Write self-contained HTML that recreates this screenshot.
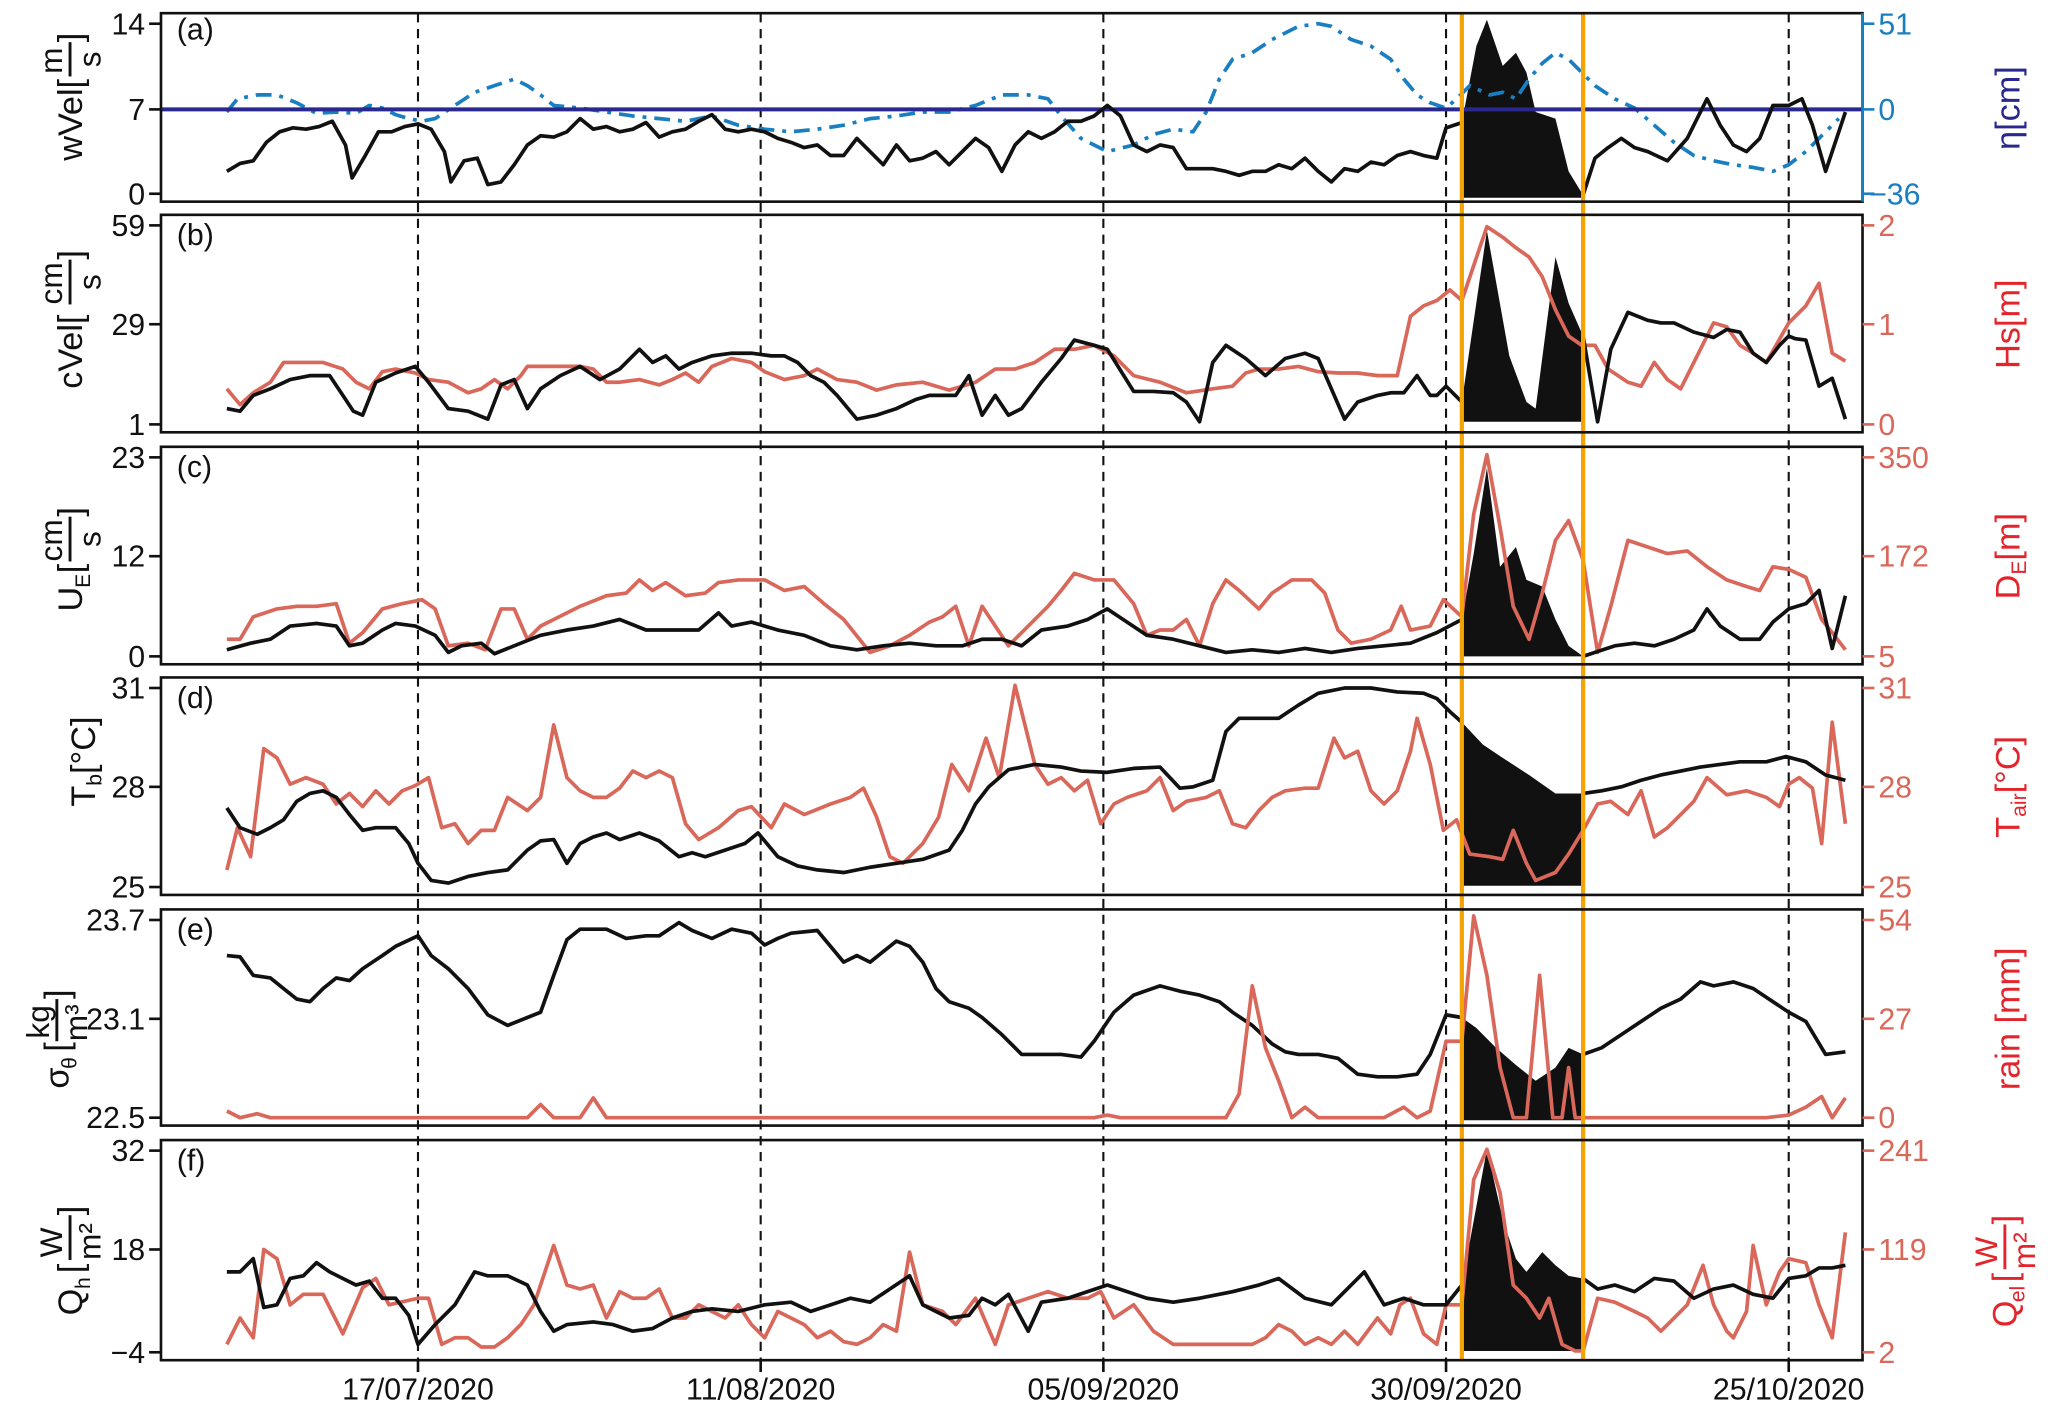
<!DOCTYPE html>
<html><head><meta charset="utf-8"><style>html,body{margin:0;padding:0;background:#fff}svg{display:block}</style></head>
<body>
<svg xmlns="http://www.w3.org/2000/svg" width="2067" height="1405" viewBox="0 0 1568 1066" font-family="Liberation Sans, sans-serif">
<rect width="1568" height="1066" fill="#fff"/>
<g fill="#111" stroke="none">
<polygon points="1109,150 1109,93 1120,35 1128,15 1140,50 1150,40 1158,55 1165,85 1180,90 1190,130 1201,148 1201,150"/>
<polygon points="1109,320 1109,305 1128,175 1145,270 1158,305 1165,310 1180,195 1190,230 1201,255 1201,320"/>
<polygon points="1109,498 1109,470 1118,420 1128,355 1138,430 1150,415 1158,440 1170,445 1180,470 1190,490 1201,498"/>
<polygon points="1109,672 1109,548 1125,565 1140,575 1160,588 1180,602 1201,602 1201,672"/>
<polygon points="1109,850 1109,772 1120,780 1135,795 1150,808 1165,820 1180,810 1190,795 1201,800 1201,850"/>
<polygon points="1109,1025 1109,975 1128,872 1140,925 1150,955 1158,965 1170,950 1180,960 1190,968 1201,970 1201,1025"/>
</g>
<g stroke="#111" stroke-width="1.6" stroke-dasharray="7,5">
<line x1="317" y1="10" x2="317" y2="1032"/><line x1="577" y1="10" x2="577" y2="1032"/><line x1="837" y1="10" x2="837" y2="1032"/><line x1="1097" y1="10" x2="1097" y2="1032"/><line x1="1357" y1="10" x2="1357" y2="1032"/>
</g>
<g fill="none" stroke-width="2.8" stroke-linejoin="round">
<polyline stroke="#1a7fc0" stroke-dasharray="12,6,3,6" points="172,85 180,75 195,72 210,72 225,78 240,86 255,85 270,86 280,80 290,82 300,87 310,90 320,92 330,90 345,80 360,70 375,65 390,60 400,65 410,72 420,80 440,82 460,85 480,88 500,90 520,92 540,88 560,95 580,98 600,100 620,98 640,95 660,90 680,88 700,85 720,85 740,80 760,72 780,72 795,75 805,88 820,105 840,115 860,110 875,102 890,98 905,100 915,85 925,60 935,45 950,40 965,30 985,20 1000,18 1010,20 1025,30 1040,35 1055,45 1065,60 1075,72 1085,78 1097,82 1105,75 1115,65 1130,72 1140,70 1150,75 1160,60 1170,48 1180,40 1190,45 1200,55 1210,65 1225,75 1240,82 1255,95 1270,108 1285,118 1300,122 1315,125 1330,127 1345,130 1357,125 1370,115 1385,100 1395,90"/>
<line x1="122" y1="83" x2="1413" y2="83" stroke="#28288f" stroke-width="3"/>
<polyline stroke="#111" points="172,130 182,124 192,122 202,108 212,100 222,97 232,98 242,96 252,92 262,110 267,135 277,118 287,100 297,100 307,96 317,94 327,98 337,115 342,138 352,122 362,120 370,140 380,138 390,125 400,110 410,103 420,104 430,100 440,90 450,98 460,96 470,100 480,98 490,93 500,104 510,100 520,98 530,92 540,87 550,98 560,100 570,98 580,100 590,105 600,108 610,112 620,110 630,118 640,118 650,105 660,115 670,125 680,110 690,122 700,120 710,115 720,125 730,115 740,105 750,112 760,130 770,110 780,100 790,105 800,100 810,92 820,92 830,88 840,80 850,88 860,110 870,115 880,110 890,112 900,128 910,128 920,128 930,130 940,133 950,130 960,130 970,125 980,128 990,120 1000,130 1010,138 1020,128 1030,130 1040,123 1050,125 1060,118 1070,115 1080,118 1090,120 1097,97 1109,93"/>
<polyline stroke="#111" points="1201,148 1210,120 1220,112 1230,105 1240,112 1250,115 1265,122 1280,105 1295,75 1305,95 1315,110 1325,115 1335,105 1345,80 1357,80 1367,75 1375,95 1385,130 1400,85"/>
<polyline stroke="#d9675a" points="172,295 182,307 192,298 205,290 215,275 230,275 245,275 260,280 270,290 280,295 290,282 300,280 315,283 325,288 340,290 355,298 365,295 375,288 385,295 395,285 400,278 415,278 430,278 440,278 450,280 460,290 470,290 485,288 500,292 510,288 520,283 530,290 540,278 555,272 570,275 580,282 595,288 610,285 620,280 635,288 650,290 665,296 680,292 700,290 720,296 740,290 755,280 770,280 785,275 800,265 815,265 830,262 845,270 860,285 880,290 900,298 920,295 935,293 945,283 955,280 970,280 985,278 1000,282 1015,283 1030,283 1045,285 1060,285 1070,240 1080,232 1090,228 1100,220 1109,228 1128,172 1140,180 1150,188 1160,195 1170,210 1180,235 1190,255 1200,262 1210,262 1220,280 1235,290 1245,293 1255,275 1265,288 1275,295 1290,265 1300,245 1310,248 1320,262 1330,268 1340,275 1357,245 1370,232 1380,215 1390,268 1400,274"/>
<polyline stroke="#111" points="172,310 182,312 192,300 205,295 220,288 235,285 250,285 260,300 268,312 275,315 285,290 300,283 315,278 325,290 340,310 355,312 370,318 380,292 390,288 400,310 410,295 425,285 440,278 455,288 470,280 485,265 495,275 505,270 515,280 525,275 540,270 555,268 570,268 585,270 595,270 605,275 615,285 625,290 635,300 650,318 665,315 680,310 695,303 705,300 715,300 725,300 735,285 745,315 755,300 765,315 775,310 790,290 805,272 815,258 830,262 840,265 860,297 875,297 890,298 900,305 910,320 920,275 930,262 945,272 960,285 975,272 990,268 1000,272 1010,295 1020,318 1030,305 1045,300 1055,298 1065,298 1075,285 1085,300 1090,300 1097,293 1109,305"/>
<polyline stroke="#111" points="1201,255 1212,320 1222,265 1235,237 1250,243 1260,245 1270,245 1285,252 1300,256 1310,250 1320,252 1330,268 1340,275 1350,262 1357,255 1362,257 1370,258 1380,293 1390,287 1400,318"/>
<polyline stroke="#d9675a" points="172,485 182,485 192,468 210,462 225,460 240,460 255,458 265,488 275,480 290,462 305,458 320,455 330,462 340,490 355,488 368,493 380,462 390,462 400,485 410,475 420,470 440,460 460,452 475,450 485,440 495,448 505,442 520,452 535,450 545,442 560,440 580,440 595,448 610,445 625,458 640,470 660,495 675,490 690,482 705,472 715,468 725,460 735,490 745,460 755,475 765,490 780,475 795,460 805,448 815,435 830,440 845,440 860,458 870,482 880,478 890,478 900,470 910,490 920,458 930,440 940,448 955,462 965,450 980,440 995,440 1005,450 1015,478 1025,488 1040,485 1055,478 1063,460 1070,478 1085,475 1095,455 1109,468 1118,390 1128,345 1138,400 1148,460 1160,485 1170,450 1180,410 1190,395 1201,425 1212,495 1222,460 1235,410 1250,415 1265,420 1280,418 1295,430 1310,440 1325,445 1335,448 1345,430 1357,432 1370,438 1382,470 1390,480 1400,493"/>
<polyline stroke="#111" points="172,493 190,488 205,485 220,475 240,473 255,475 265,490 275,488 290,478 300,473 315,475 330,482 340,495 350,490 365,488 375,496 390,490 410,482 430,478 450,475 470,470 490,478 510,478 530,478 545,465 555,475 570,472 590,478 610,482 630,490 650,493 670,490 690,488 710,490 730,490 745,485 760,485 775,490 790,478 810,475 825,470 840,462 855,472 870,482 890,485 910,490 930,495 950,493 970,495 990,492 1010,495 1030,492 1050,490 1070,488 1090,480 1109,470"/>
<polyline stroke="#111" points="1201,498 1210,495 1225,490 1240,488 1255,490 1270,485 1285,478 1295,462 1305,475 1320,485 1335,485 1345,472 1357,462 1370,458 1380,448 1390,492 1400,452"/>
<polyline stroke="#d9675a" points="172,660 180,628 190,650 200,568 210,575 220,595 232,590 245,595 255,610 265,602 275,612 285,600 295,610 305,600 315,596 325,590 335,628 345,625 355,640 365,630 375,630 385,605 400,615 410,605 420,550 430,590 440,600 450,605 460,605 470,598 480,585 490,590 500,585 510,590 520,625 530,637 545,628 560,615 570,612 585,628 595,610 610,618 630,610 645,605 655,598 665,620 675,650 685,655 700,640 712,620 722,580 735,600 748,560 758,590 770,520 785,580 795,595 805,590 815,600 825,592 835,625 845,610 855,605 870,600 880,590 890,615 900,608 915,605 925,600 935,625 945,628 955,615 965,605 975,600 990,598 1000,598 1012,560 1020,575 1030,570 1040,600 1050,610 1060,600 1070,570 1075,545 1085,580 1095,630 1105,622 1115,648 1130,650 1140,652 1148,630 1158,655 1165,668 1180,662 1190,648 1201,630 1212,610 1222,608 1235,618 1245,600 1255,635 1265,628 1275,618 1285,608 1295,590 1310,603 1325,600 1340,605 1350,612 1357,595 1365,590 1375,598 1382,640 1390,548 1400,625"/>
<polyline stroke="#111" points="172,613 182,628 195,633 205,628 215,622 225,608 235,602 245,600 255,605 265,618 275,630 285,628 300,628 310,640 317,655 327,668 340,670 355,665 370,662 385,660 400,645 410,638 420,637 430,655 440,640 450,635 460,632 470,637 485,632 500,638 515,650 525,647 535,650 550,645 565,640 575,632 590,650 605,657 620,660 640,662 660,658 680,655 700,652 720,645 730,630 740,610 750,597 765,584 785,580 805,582 820,585 840,586 860,583 880,582 895,598 905,597 920,592 930,555 940,545 955,545 970,545 985,535 1000,526 1020,522 1040,522 1060,525 1080,526 1090,530 1100,540 1109,548"/>
<polyline stroke="#111" points="1201,602 1215,600 1230,597 1245,592 1260,588 1275,585 1290,582 1305,580 1320,578 1340,578 1355,574 1370,578 1385,588 1400,592"/>
<polyline stroke="#111" points="172,725 182,726 192,740 205,742 215,750 225,758 235,760 245,750 255,742 265,744 275,735 290,725 300,718 317,710 327,725 340,735 355,750 370,770 385,778 400,772 410,768 420,740 430,713 440,705 460,705 475,712 490,710 500,710 515,700 525,706 540,712 555,705 570,708 580,717 590,712 600,708 620,706 630,718 640,730 650,725 660,730 670,722 680,714 690,718 700,730 710,750 720,760 735,765 745,772 760,785 775,800 790,800 805,800 820,802 830,790 845,768 860,755 880,748 895,752 910,755 925,760 935,768 950,778 965,792 975,798 985,800 1000,800 1015,803 1030,815 1045,817 1060,817 1075,815 1085,800 1097,770 1109,772"/>
<polyline stroke="#111" points="1201,800 1215,795 1230,785 1245,775 1260,765 1275,758 1290,745 1300,748 1315,745 1330,750 1345,760 1357,768 1370,775 1385,800 1400,798"/>
<polyline stroke="#d9675a" points="172,843 182,848 195,845 205,848 400,848 410,838 420,848 440,848 450,833 460,848 830,848 840,846 850,848 930,848 940,830 950,748 960,795 970,820 980,848 990,840 1000,848 1050,848 1065,840 1075,848 1085,843 1097,790 1109,790 1118,695 1128,740 1138,810 1148,848 1158,848 1168,740 1178,848 1185,848 1190,810 1195,848 1201,848 1340,848 1357,846 1370,840 1382,832 1390,848 1400,833"/>
<polyline stroke="#d9675a" points="172,1020 182,1000 192,1015 200,948 210,955 220,990 230,982 245,982 260,1012 275,977 285,970 295,990 317,985 325,985 335,1020 345,1015 355,1015 365,1022 375,1022 385,1015 395,1005 405,990 420,945 430,975 440,978 450,975 460,1000 470,980 480,985 490,985 500,978 510,1000 520,1000 530,990 540,995 550,1000 560,990 570,1005 580,1015 590,995 600,1000 610,1005 620,1015 630,1010 640,1018 650,1020 660,1015 670,1005 680,1010 690,950 700,990 715,995 725,1005 740,985 755,1020 765,990 780,985 795,980 810,985 825,985 835,980 845,1000 860,990 875,1010 890,1020 910,1020 930,1020 950,1020 960,1015 970,1005 980,1010 990,1020 1000,1015 1010,1020 1020,1010 1030,1020 1045,1000 1055,1012 1062,990 1070,985 1080,1012 1090,1020 1097,990 1109,990 1118,895 1128,872 1138,905 1148,975 1158,985 1168,1000 1175,985 1185,1020 1195,1025 1201,1025 1212,985 1225,988 1240,995 1250,1000 1260,1010 1270,1000 1280,990 1292,960 1300,990 1310,1010 1315,1015 1325,995 1330,945 1340,990 1350,965 1357,955 1370,958 1380,990 1390,1015 1400,935"/>
<polyline stroke="#111" points="172,965 182,965 192,955 200,992 210,990 220,970 230,968 240,958 250,965 260,970 270,975 280,972 290,985 300,985 310,998 317,1020 330,1005 345,990 360,965 370,968 385,968 400,975 410,995 420,1010 430,1005 450,1003 465,1005 480,1010 495,1008 510,1000 525,995 540,993 560,995 580,990 600,988 615,995 630,990 645,985 660,988 675,978 690,968 700,990 710,995 720,1000 735,998 745,985 755,990 765,982 780,1010 790,988 810,985 825,980 840,975 855,980 870,985 890,988 910,985 935,980 955,975 970,970 990,985 1010,990 1025,975 1035,965 1050,990 1065,985 1080,990 1097,990 1109,975"/>
<polyline stroke="#111" points="1201,970 1212,978 1225,975 1240,980 1255,970 1270,972 1285,985 1300,978 1315,975 1330,982 1345,985 1357,970 1370,968 1380,962 1390,962 1400,960"/>
</g>
<g stroke="#f5a300" stroke-width="3.2">
<line x1="1109" y1="10" x2="1109" y2="1032"/><line x1="1201" y1="10" x2="1201" y2="1032"/>
</g>
<g fill="none" stroke="#111" stroke-width="2">
<rect x="122" y="10" width="1291" height="143"/>
<rect x="122" y="163" width="1291" height="165"/>
<rect x="122" y="339" width="1291" height="165"/>
<rect x="122" y="514" width="1291" height="165"/>
<rect x="122" y="690" width="1291" height="164"/>
<rect x="122" y="865" width="1291" height="167"/>
</g>
<g stroke="#111" stroke-width="2">
<line x1="113" y1="18" x2="122" y2="18"/><line x1="113" y1="83" x2="122" y2="83"/><line x1="113" y1="147" x2="122" y2="147"/>
<line x1="113" y1="171" x2="122" y2="171"/><line x1="113" y1="246" x2="122" y2="246"/><line x1="113" y1="322" x2="122" y2="322"/>
<line x1="113" y1="347" x2="122" y2="347"/><line x1="113" y1="422" x2="122" y2="422"/><line x1="113" y1="498" x2="122" y2="498"/>
<line x1="113" y1="522" x2="122" y2="522"/><line x1="113" y1="597" x2="122" y2="597"/><line x1="113" y1="673" x2="122" y2="673"/>
<line x1="113" y1="698" x2="122" y2="698"/><line x1="113" y1="773" x2="122" y2="773"/><line x1="113" y1="848" x2="122" y2="848"/>
<line x1="113" y1="873" x2="122" y2="873"/><line x1="113" y1="948" x2="122" y2="948"/><line x1="113" y1="1026" x2="122" y2="1026"/>
<line x1="317" y1="1032" x2="317" y2="1041"/><line x1="577" y1="1032" x2="577" y2="1041"/><line x1="837" y1="1032" x2="837" y2="1041"/><line x1="1097" y1="1032" x2="1097" y2="1041"/><line x1="1357" y1="1032" x2="1357" y2="1041"/>
</g>
<g stroke="#1a7fc0" stroke-width="2"><line x1="1413" y1="18" x2="1422" y2="18"/><line x1="1413" y1="83" x2="1422" y2="83"/><line x1="1413" y1="147" x2="1422" y2="147"/><line x1="1413" y1="10" x2="1413" y2="153"/></g>
<g stroke="#d9675a" stroke-width="2">
<line x1="1413" y1="171" x2="1422" y2="171"/><line x1="1413" y1="246" x2="1422" y2="246"/><line x1="1413" y1="322" x2="1422" y2="322"/>
<line x1="1413" y1="347" x2="1422" y2="347"/><line x1="1413" y1="422" x2="1422" y2="422"/><line x1="1413" y1="498" x2="1422" y2="498"/>
<line x1="1413" y1="522" x2="1422" y2="522"/><line x1="1413" y1="597" x2="1422" y2="597"/><line x1="1413" y1="673" x2="1422" y2="673"/>
<line x1="1413" y1="698" x2="1422" y2="698"/><line x1="1413" y1="773" x2="1422" y2="773"/><line x1="1413" y1="848" x2="1422" y2="848"/>
<line x1="1413" y1="873" x2="1422" y2="873"/><line x1="1413" y1="948" x2="1422" y2="948"/><line x1="1413" y1="1026" x2="1422" y2="1026"/>
</g>
<g font-size="23" fill="#111" text-anchor="end">
<text x="110" y="26">14</text><text x="110" y="91">7</text><text x="110" y="155">0</text>
<text x="110" y="179">59</text><text x="110" y="254">29</text><text x="110" y="330">1</text>
<text x="110" y="355">23</text><text x="110" y="430">12</text><text x="110" y="506">0</text>
<text x="110" y="530">31</text><text x="110" y="605">28</text><text x="110" y="681">25</text>
<text x="110" y="706">23.7</text><text x="110" y="781">23.1</text><text x="110" y="856">22.5</text>
<text x="110" y="881">32</text><text x="110" y="956">18</text><text x="110" y="1034">−4</text>
</g>
<g font-size="23" fill="#1a7fc0"><text x="1425" y="26">51</text><text x="1425" y="91">0</text><text x="1418" y="155">−36</text></g>
<g font-size="23" fill="#d9675a">
<text x="1425" y="179">2</text><text x="1425" y="254">1</text><text x="1425" y="330">0</text>
<text x="1425" y="355">350</text><text x="1425" y="430">172</text><text x="1425" y="506">5</text>
<text x="1425" y="530">31</text><text x="1425" y="605">28</text><text x="1425" y="681">25</text>
<text x="1425" y="706">54</text><text x="1425" y="781">27</text><text x="1425" y="856">0</text>
<text x="1425" y="881">241</text><text x="1425" y="956">119</text><text x="1425" y="1034">2</text>
</g>
<g font-size="23" fill="#111" text-anchor="middle">
<text x="317" y="1062">17/07/2020</text><text x="577" y="1062">11/08/2020</text><text x="837" y="1062">05/09/2020</text><text x="1097" y="1062">30/09/2020</text><text x="1357" y="1062">25/10/2020</text>
</g>
<g font-size="23" fill="#111">
<text x="134" y="30">(a)</text><text x="134" y="186">(b)</text><text x="134" y="362">(c)</text><text x="134" y="537">(d)</text><text x="134" y="713">(e)</text><text x="134" y="888">(f)</text>
</g>
<g font-size="26" fill="#111">
<g transform="translate(62,80) rotate(-90)"><text x="-42" y="0">wVel[</text><text x="24" y="-15" font-size="24">m</text><line x1="22" y1="-9" x2="48" y2="-9" stroke="#111" stroke-width="2.2"/><text x="29" y="14" font-size="24">s</text><text x="48" y="0">]</text></g>
<g transform="translate(62,245) rotate(-90)"><text x="-50" y="0">cVel[</text><text x="14" y="-15" font-size="24">cm</text><line x1="14" y1="-9" x2="48" y2="-9" stroke="#111" stroke-width="2.2"/><text x="25" y="14" font-size="24">s</text><text x="48" y="0">]</text></g>
<g transform="translate(62,420) rotate(-90)"><text x="-44" y="0">U</text><text x="-26" y="6" font-size="16">E</text><text x="-15" y="0">[</text><text x="-6" y="-15" font-size="24">cm</text><line x1="-6" y1="-9" x2="28" y2="-9" stroke="#111" stroke-width="2.2"/><text x="5" y="14" font-size="24">s</text><text x="28" y="0">]</text></g>
<text transform="translate(72,612) rotate(-90)">T<tspan font-size="16" dy="5">b</tspan><tspan dy="-5">[°C]</tspan></text>
<g transform="translate(52,770) rotate(-90)"><text x="-56" y="0">σ</text><text x="-41" y="6" font-size="16">θ</text><text x="-28" y="0">[</text><text x="-18" y="-15" font-size="24">kg</text><line x1="-20" y1="-9" x2="12" y2="-9" stroke="#111" stroke-width="2.2"/><text x="-20" y="14" font-size="24">m³</text><text x="12" y="0">]</text></g>
<g transform="translate(62,950) rotate(-90)"><text x="-48" y="0">Q</text><text x="-28" y="6" font-size="16">h</text><text x="-16" y="0">[</text><text x="-4" y="-15" font-size="24">W</text><line x1="-6" y1="-9" x2="28" y2="-9" stroke="#111" stroke-width="2.2"/><text x="-6" y="14" font-size="24">m²</text><text x="28" y="0">]</text></g>
</g>
<g font-size="26">
<text transform="translate(1532,82) rotate(-90)" text-anchor="middle" fill="#28288f">η[cm]</text>
<text transform="translate(1532,246) rotate(-90)" text-anchor="middle" fill="#e3242b">Hs[m]</text>
<text transform="translate(1532,422) rotate(-90)" text-anchor="middle" fill="#e3242b">D<tspan font-size="16" dy="5">E</tspan><tspan dy="-5">[m]</tspan></text>
<text transform="translate(1532,597) rotate(-90)" text-anchor="middle" fill="#e3242b">T<tspan font-size="16" dy="5">air</tspan><tspan dy="-5">[°C]</tspan></text>
<text transform="translate(1532,773) rotate(-90)" text-anchor="middle" fill="#e3242b">rain [mm]</text>
<g transform="translate(1530,955) rotate(-90)" fill="#e3242b"><text x="-52" y="0">Q</text><text x="-33" y="6" font-size="16">el</text><text x="-18" y="0">[</text><text x="-6" y="-15" font-size="24">W</text><line x1="-8" y1="-9" x2="26" y2="-9" stroke="#e3242b" stroke-width="2.2"/><text x="-8" y="14" font-size="24">m²</text><text x="26" y="0">]</text></g>
</g>
</svg>
</body></html>
